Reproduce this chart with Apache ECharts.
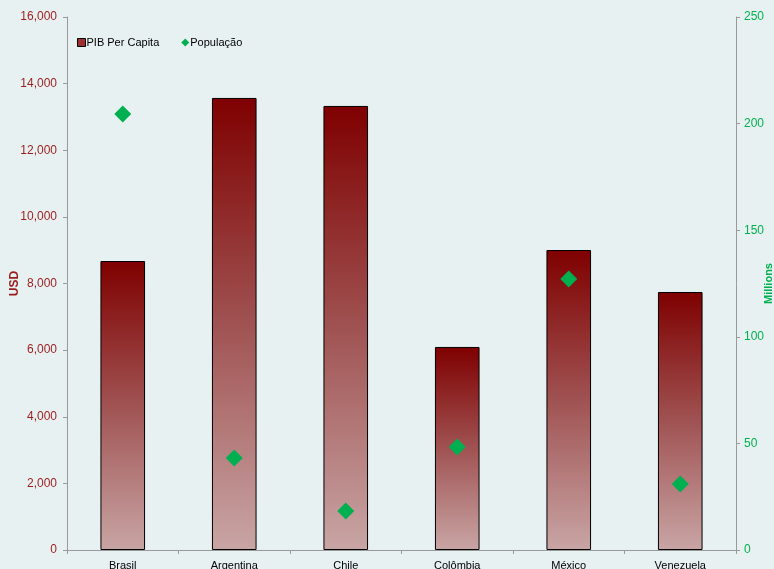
<!DOCTYPE html>
<html><head><meta charset="utf-8">
<script src="https://cdn.jsdelivr.net/npm/echarts@6/dist/echarts.min.js"></script>
<style>html,body{margin:0;padding:0;background:#e8f1f2;}#c{width:774px;height:569px;}</style>
</head><body><div id="c"></div>
<script>
const categories = ['Brasil','Argentina','Chile','Colômbia','México','Venezuela'];
const pibPerCapita = [8675, 13570, 13330, 6095, 9005, 7745];
const populacao = [204.5, 43.2, 18.3, 48.3, 127.1, 31.0];
const leftTicks = [0, 16000, 2000];
const rightTicks = [0, 250, 50];

const chart = echarts.init(document.getElementById('c'));
const red = '#9b1c1c', green = '#00b050';
chart.setOption({
  backgroundColor: '#e8f1f2',
  animation: false,
  textStyle: {fontFamily: 'Liberation Sans, Arial, sans-serif'},
  grid: {left: 67, right: 38, top: 17, bottom: 19, containLabel: false, outerBoundsMode: 'none'},
  legend: {
    left: 72, top: 32, itemGap: 22, itemWidth: 8, itemHeight: 8,
    textStyle: {fontSize: 11, color: '#000', padding: [0,0,0,-4]},
    data: [
      {name: 'PIB Per Capita', icon: 'rect', itemStyle: {color: '#a03030', borderColor: '#000', borderWidth: 1}},
      {name: 'População', icon: 'diamond', itemStyle: {color: green, opacity: 1}}
    ]
  },
  xAxis: {
    type: 'category', data: categories,
    axisLine: {lineStyle: {color: '#999'}},
    axisTick: {show: true, lineStyle: {color: '#999'}, length: 4},
    axisLabel: {color: '#000', fontSize: 11, margin: 10}
  },
  yAxis: [
    {type: 'value', min: leftTicks[0], max: leftTicks[1], interval: leftTicks[2], position: 'left',
     name: 'USD', nameLocation: 'middle', nameGap: 46, nameRotate: 90, nameMoveOverlap: false,
     nameTextStyle: {color: red, fontWeight: 'bold', fontSize: 12},
     axisLine: {show: true, lineStyle: {color: '#999'}},
     axisTick: {show: true, lineStyle: {color: '#999'}, length: 4},
     axisLabel: {color: red, fontSize: 12, margin: 10,
       formatter: v => v.toLocaleString('en-US')},
     splitLine: {show: false}},
    {type: 'value', min: rightTicks[0], max: rightTicks[1], interval: rightTicks[2], position: 'right',
     name: 'Millions', nameLocation: 'middle', nameGap: 27, nameRotate: 90, nameMoveOverlap: false,
     nameTextStyle: {color: green, fontWeight: 'bold', fontSize: 11},
     axisLine: {show: true, lineStyle: {color: '#999'}},
     axisTick: {show: true, lineStyle: {color: '#999'}, length: 4},
     axisLabel: {color: green, fontSize: 12, margin: 8},
     splitLine: {show: false}}
  ],
  series: [
    {name: 'PIB Per Capita', type: 'bar', yAxisIndex: 0, data: pibPerCapita, barWidth: '40%',
     itemStyle: {
       borderColor: '#000', borderWidth: 1,
       color: new echarts.graphic.LinearGradient(0,0,0,1,[
         {offset: 0, color: '#7f0000'},
         {offset: 0.5, color: '#a05252'},
         {offset: 1, color: '#c9a5a5'}
       ])
     }},
    {name: 'População', type: 'scatter', yAxisIndex: 1, data: populacao,
     symbol: 'diamond', symbolSize: 17, itemStyle: {color: green, opacity: 1}, z: 5}
  ]
});
</script></body></html>
